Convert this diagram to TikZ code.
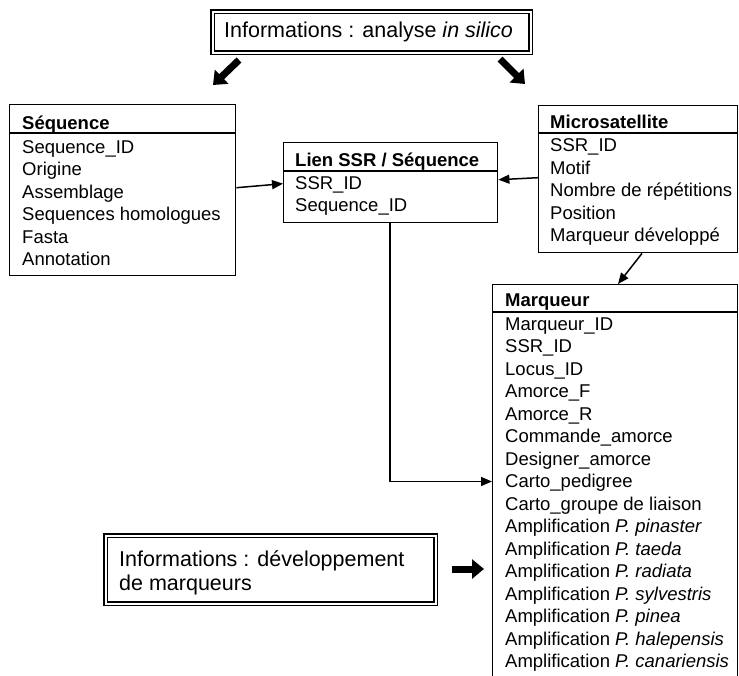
\documentclass[tikz,border=0pt]{standalone}
\usepackage{fontspec}
\setmainfont{Liberation Sans}
\usetikzlibrary{arrows.meta,calc}
\begin{document}
\begin{tikzpicture}[x=1pt,y=-1pt,
  tbl/.style={draw, line width=1.4pt, inner sep=0pt, anchor=north west},
  txt/.style={anchor=base west, inner sep=0pt, font=\fontsize{18.5}{22.5}\selectfont},
  hdr/.style={anchor=base west, inner sep=0pt, font=\fontsize{18.5}{22.5}\selectfont\bfseries},
  info/.style={draw, double, double distance=1.6pt, line width=1.5pt, inner sep=0pt, anchor=north west},
  infotxt/.style={anchor=base west, inner sep=0pt, font=\fontsize{21.5}{24}\selectfont},
  conn/.style={line width=1.5pt, -{Triangle[length=11pt,width=9pt]}},
  blk/.style={line width=7pt, -{Triangle[length=12pt,width=19pt]}}
]
\clip (0,0) rectangle (739,675);
\fill[white] (0,0) rectangle (739,675);

% ---- info box top
\node[info, minimum width=318pt, minimum height=41pt] (infoA) at (212,11) {};
\node[infotxt] (infoAt) at (224,37.3) {Informations : analyse \textit{in silico}};
\coordinate (aL0) at (239,60);
\coordinate (aL1) at (213,85);
\coordinate (aR0) at (500,59);
\coordinate (aR1) at (525,84);
\draw[blk] (aL0) -- (aL1);
\draw[blk] (aR0) -- (aR1);

% ---- Sequence
\node[tbl, minimum width=226pt, minimum height=171pt] (seq) at (9,104) {};
\draw[line width=1.4pt] (seq.north west |- 0,133) -- (seq.north east |- 0,133);
\node[hdr] (seqh) at (22,129.3) {Séquence};
\node[txt] (s1) at (22,153.3) {Sequence\_ID};
\node[txt] (s2) at (22,175.8) {Origine};
\node[txt] (s3) at (22,198.3) {Assemblage};
\node[txt] (s4) at (22,220.8) {Sequences homologues};
\node[txt] (s5) at (22,243.3) {Fasta};
\node[txt] (s6) at (22,265.8) {Annotation};

% ---- Lien
\node[tbl, minimum width=214pt, minimum height=80pt] (lien) at (283,142) {};
\draw[line width=1.4pt] (lien.north west |- 0,171) -- (lien.north east |- 0,171);
\node[hdr] (lienh) at (295,166) {Lien SSR / Séquence};
\node[txt] (l1) at (295,189.3) {SSR\_ID};
\node[txt] (l2) at (295,211.7) {Sequence\_ID};

% ---- Microsatellite
\node[tbl, minimum width=199pt, minimum height=147pt] (micro) at (538,105) {};
\draw[line width=1.4pt] (micro.north west |- 0,133) -- (micro.north east |- 0,133);
\node[hdr] (microh) at (550,128.3) {Microsatellite};
\node[txt] (m1) at (550,151.7) {SSR\_ID};
\node[txt] (m2) at (550,174.2) {Motif};
\node[txt] (m3) at (550,196.7) {Nombre de répétitions};
\node[txt] (m4) at (550,219.2) {Position};
\node[txt] (m5) at (550,241.7) {Marqueur développé};

% ---- Marqueur
\node[tbl, minimum width=245pt, minimum height=420pt] (marq) at (492,284) {};
\draw[line width=1.4pt] (marq.north west |- 0,312) -- (marq.north east |- 0,312);
\node[hdr] (marqh) at (505,306.7) {Marqueur};
\node[txt] (q1) at (505,330) {Marqueur\_ID};
\node[txt] (q2) at (505,352.5) {SSR\_ID};
\node[txt] (q3) at (505,375) {Locus\_ID};
\node[txt] (q4) at (505,397.5) {Amorce\_F};
\node[txt] (q5) at (505,420) {Amorce\_R};
\node[txt] (q6) at (505,442.5) {Commande\_amorce};
\node[txt] (q7) at (505,465) {Designer\_amorce};
\node[txt] (q8) at (505,487.5) {Carto\_pedigree};
\node[txt] (q9) at (505,510) {Carto\_groupe de liaison};
\node[txt] (q10) at (505,532.5) {Amplification \textit{P. pinaster}};
\node[txt] (q11) at (505,555) {Amplification \textit{P. taeda}};
\node[txt] (q12) at (505,577.5) {Amplification \textit{P. radiata}};
\node[txt] (q13) at (505,600) {Amplification \textit{P. sylvestris}};
\node[txt] (q14) at (505,622.5) {Amplification \textit{P. pinea}};
\node[txt] (q15) at (505,645) {Amplification \textit{P. halepensis}};
\node[txt] (q16) at (505,667.5) {Amplification \textit{P. canariensis}};

% ---- info box bottom
\node[info, minimum width=330pt, minimum height=68pt] (infoB) at (105,535) {};
\node[infotxt] (infoBt1) at (119,566) {Informations : développement};
\node[infotxt] (infoBt2) at (119,590) {de marqueurs};
\coordinate (aB0) at (452,569);
\coordinate (aB1) at (484,569);
\draw[blk] (aB0) -- (aB1);

% ---- connectors
\draw[conn] ($(seq.east)+(0,-2.5)$) -- ($(lien.west)+(0,1)$);
\draw[conn] ($(micro.west)+(0,-1.5)$) -- ($(lien.east)+(0,-3)$);
\coordinate (lb) at ($(lien.south west)+(107,0)$);
\draw[conn] (lb) |- ($(marq.west |- q8.base)+(0,-6)$);
\draw[conn] ($(micro.south west)+(104,0)$) -- ($(marq.north west)+(126,0)$);
\end{tikzpicture}
\end{document}
